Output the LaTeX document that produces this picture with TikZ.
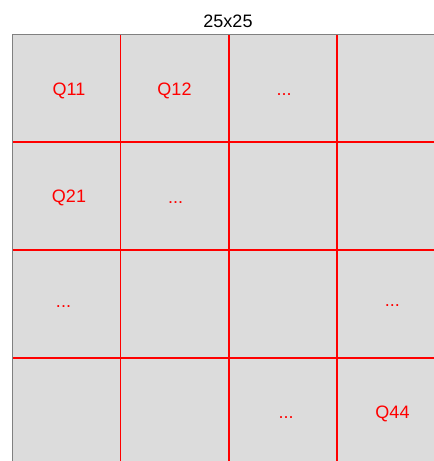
\documentclass[tikz,border=0pt]{standalone}
\usepackage{fontspec}
\setmainfont{Liberation Sans}
\definecolor{cellgray}{HTML}{DCDCDC}
\definecolor{edgegray}{HTML}{808080}
\definecolor{gridred}{HTML}{FF0000}
\begin{document}
\begin{tikzpicture}[x=1pt,y=-1pt,
  cell/.style={anchor=base,text=gridred,font=\fontsize{18}{20}\selectfont,inner sep=0pt},
  title/.style={anchor=base,text=black,font=\fontsize{18}{20}\selectfont,inner sep=0pt},
  gridline/.style={draw=gridred,line width=1.5pt}]
\useasboundingbox (0,0) rectangle (434,461);
\begin{scope}
\clip (0,0) rectangle (434,461);
\fill[cellgray] (12.5,34.5) rectangle (460,480);
\draw[edgegray,line width=1.5pt] (12.5,480) -- (12.5,34.5) -- (460,34.5);
\foreach \x in {120.5,229,337} \draw[gridline] (\x,35.3) -- (\x,470);
\foreach \y in {142,250,358} \draw[gridline] (13.3,\y) -- (460,\y);
\end{scope}
\node[title] (t) at (228,27) {25x25};
\node[cell] (q11) at (69,95) {Q11};
\node[cell] (q12) at (174.5,95) {Q12};
\node[cell] (d13) at (284,95) {...};
\node[cell] (q21) at (69,202) {Q21};
\node[cell] (d22) at (175.7,203) {...};
\node[cell] (d31) at (63.5,307.5) {...};
\node[cell] (d34) at (392.3,306) {...};
\node[cell] (d43) at (286,418) {...};
\node[cell] (q44) at (392.5,418) {Q44};
\end{tikzpicture}
\end{document}
